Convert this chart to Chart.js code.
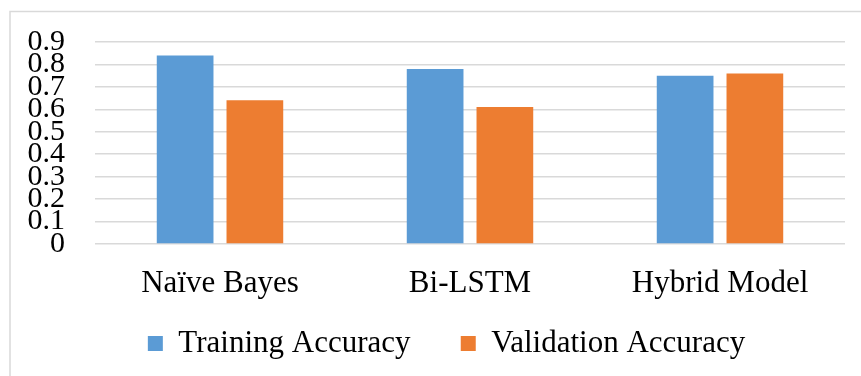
<!DOCTYPE html>
<html>
<head>
<meta charset="utf-8">
<script src="https://cdn.jsdelivr.net/npm/chart.js@4/dist/chart.umd.min.js"></script>
<style>
  html, body { margin: 0; padding: 0; background: #ffffff; }
  canvas { display: block; }
</style>
</head>
<body>
<canvas id="accuracyChart" width="861" height="376"></canvas>
<script>
// Model names along the x axis
const models = ['Naïve Bayes', 'Bi-LSTM', 'Hybrid Model'];

// Accuracy per model
const trainingAccuracy = [0.84, 0.78, 0.75];
const validationAccuracy = [0.64, 0.61, 0.76];

// Labels for the value axis, bottom to top
const yTickLabels = ['0', '0.1', '0.2', '0.3', '0.4', '0.5', '0.6', '0.7', '0.8', '0.9'];

const serif = '"Liberation Serif", "Times New Roman", Times, serif';
const gridGray = '#d9d9d9';

// Thin frame round the whole figure
const framePlugin = {
  id: 'frame',
  beforeDraw(chart) {
    const ctx = chart.ctx;
    ctx.save();
    ctx.fillStyle = '#ffffff';
    ctx.fillRect(0, 0, chart.width, chart.height);
    ctx.strokeStyle = gridGray;
    ctx.lineWidth = 1.5;
    ctx.strokeRect(10, 11.5, chart.width + 20, chart.height + 20);
    ctx.restore();
  }
};

// Nudge the legend row sideways after layout
const legendShift = {
  id: 'legendShift',
  afterLayout(chart) {
    const lg = chart.legend;
    if (!lg) return;
    const dx = 19;
    lg.left += dx;
    lg.right += dx;
  }
};

new Chart(document.getElementById('accuracyChart'), {
  type: 'bar',
  data: {
    labels: models,
    datasets: [
      {
        label: 'Training Accuracy',
        data: trainingAccuracy,
        backgroundColor: '#5b9bd5',
        borderWidth: 0
      },
      {
        label: 'Validation Accuracy',
        data: validationAccuracy,
        backgroundColor: '#ed7d31',
        borderWidth: 0
      }
    ]
  },
  options: {
    responsive: false,
    animation: false,
    events: [],
    layout: {
      padding: { left: 10, right: 16, top: 42, bottom: 7 }
    },
    datasets: {
      bar: {
        categoryPercentage: 0.558,
        barPercentage: 0.813
      }
    },
    scales: {
      x: {
        afterFit(scale) { scale.height = 57; },
        grid: { display: false, drawTicks: false },
        border: { display: false },
        ticks: {
          color: '#000000',
          padding: 21,
          autoSkip: false,
          font: { family: serif, size: 31 }
        }
      },
      y: {
        min: 0,
        max: 0.9,
        afterFit(scale) {
          scale.width = 85;
          scale.paddingTop = 0;
          scale.paddingBottom = 0;
        },
        grid: { color: gridGray, lineWidth: 1.5, drawTicks: false },
        border: { display: false },
        ticks: {
          stepSize: 0.1,
          autoSkip: false,
          color: '#000000',
          padding: 30,
          font: { family: serif, size: 30 },
          callback: (value, index) => yTickLabels[index]
        }
      }
    },
    plugins: {
      legend: {
        position: 'bottom',
        labels: {
          color: '#000000',
          boxWidth: 15,
          boxHeight: 15,
          padding: 27,
          font: { family: serif, size: 31 },
          // wider gap after the first entry
          generateLabels(chart) {
            const items = Chart.defaults.plugins.legend.labels.generateLabels(chart);
            if (items.length) items[0].text += '   ';
            return items;
          }
        }
      },
      tooltip: { enabled: false }
    }
  },
  plugins: [framePlugin, legendShift]
});
</script>
</body>
</html>
